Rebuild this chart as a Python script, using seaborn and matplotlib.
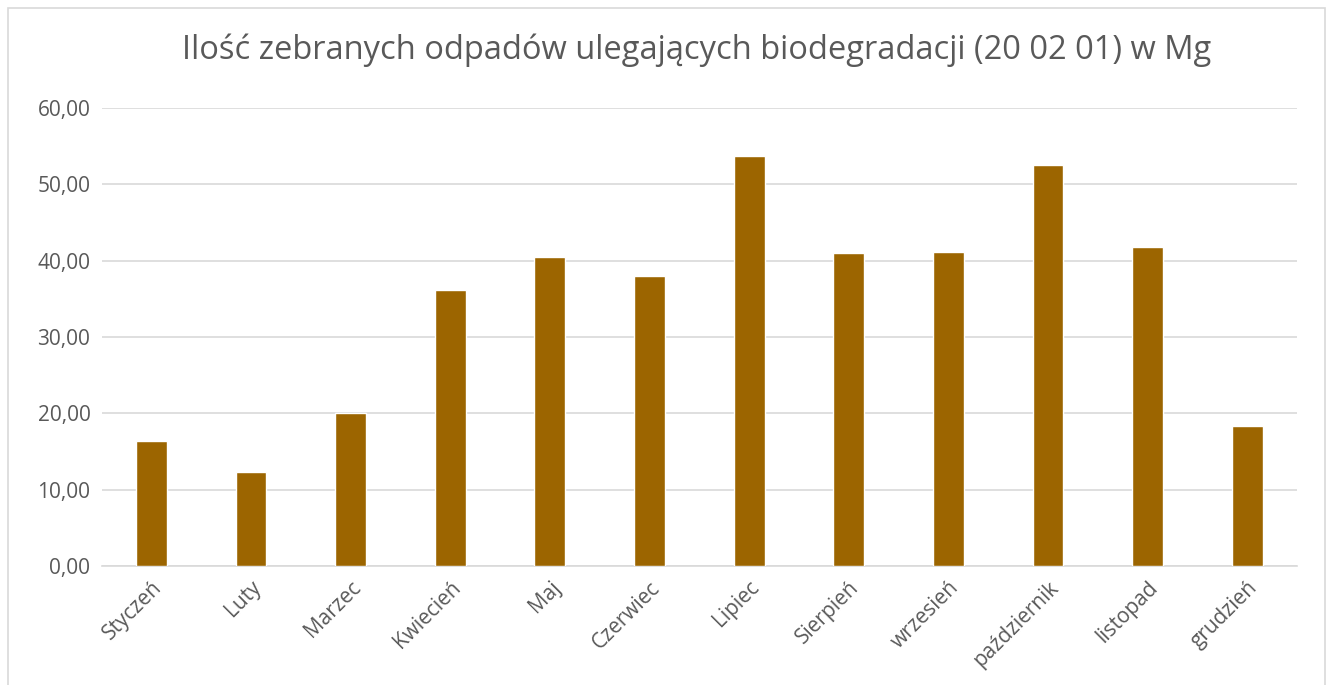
import matplotlib
matplotlib.use("Agg")
import matplotlib.pyplot as plt
import seaborn as sns
import pandas as pd
from matplotlib.patches import Rectangle
from matplotlib.ticker import FuncFormatter

# Data
months = ["Styczeń", "Luty", "Marzec", "Kwiecień", "Maj", "Czerwiec",
          "Lipiec", "Sierpień", "wrzesień", "październik", "listopad", "grudzień"]
values = [16.4, 12.3, 20.0, 36.1, 40.5, 38.0, 53.7, 41.0, 41.1, 52.6, 41.8, 18.3]
title = "Ilość zebranych odpadów ulegających biodegradacji (20 02 01) w Mg"

df = pd.DataFrame({"miesiac": months, "masa": values})

sns.set_style("white")
plt.rcParams["font.family"] = ["Open Sans", "DejaVu Sans"]

text_col = "#595959"
fig = plt.figure(figsize=(13.27, 6.85), dpi=100)
ax = fig.add_axes([0.0765, 0.1737, 0.9009, 0.6686])

sns.barplot(data=df, x="miesiac", y="masa", color="#9C6500", width=0.31,
            saturation=1, ax=ax, zorder=3)

ax.set_ylim(0, 60)
ax.set_yticks(range(0, 61, 10))
ax.yaxis.set_major_formatter(FuncFormatter(lambda v, p: f"{v:.2f}".replace(".", ",")))
ax.grid(axis="y", color="#D9D9D9", linewidth=1.2, zorder=0)
ax.set_xlim(-0.5, len(months) - 0.5)

for s in ["top", "right", "left"]:
    ax.spines[s].set_visible(False)
ax.spines["bottom"].set_color("#D9D9D9")
ax.spines["bottom"].set_linewidth(1.2)

ax.set_xlabel("")
ax.set_ylabel("")
ax.tick_params(axis="both", length=0, labelsize=15, colors=text_col, pad=8)
for lab in ax.get_xticklabels():
    lab.set_rotation(45)
    lab.set_ha("right")
    lab.set_rotation_mode("anchor")

fig.text(0.525, 0.927, title, ha="center", va="center", fontsize=23.5, color=text_col)

# chart border
fig.patches.append(Rectangle((0.006, -0.01), 0.9925, 0.998, transform=fig.transFigure,
                             fill=False, edgecolor="#D9D9D9", linewidth=1.2))

fig.savefig("out.png", dpi=100)
